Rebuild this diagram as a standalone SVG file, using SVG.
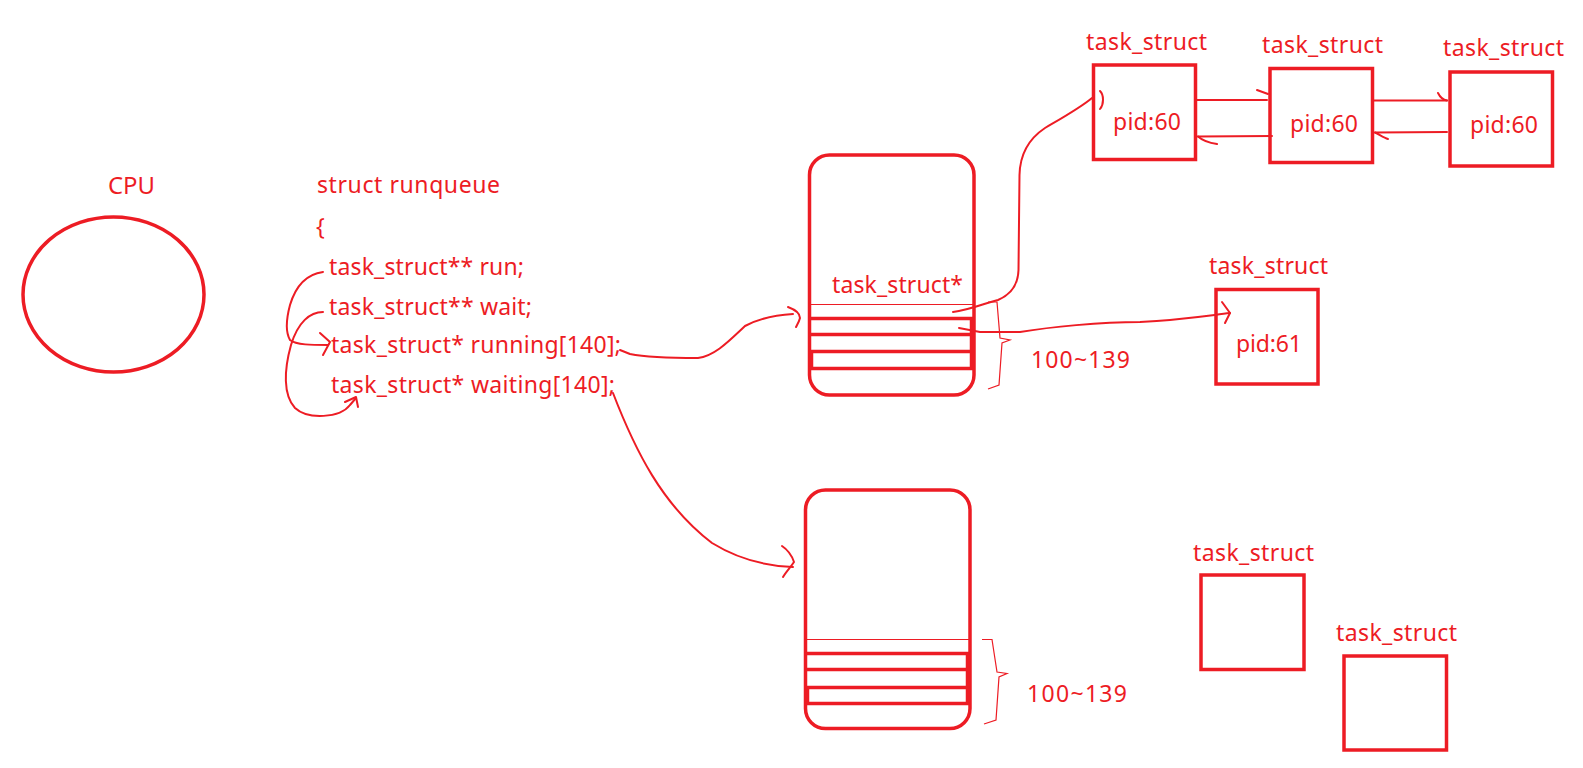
<svg xmlns="http://www.w3.org/2000/svg" width="1583" height="768" viewBox="0 0 1583 768">
<style>
text{font-family:"Noto Sans","Open Sans","Liberation Sans",sans-serif;font-size:23px;fill:#ed1c24}
.box{fill:none;stroke:#ed1c24;stroke-width:3.5}
.slot{stroke:#ed1c24;stroke-width:3.5}
.thin{fill:none;stroke:#ed1c24;stroke-width:1.2}
.ln{fill:none;stroke:#ed1c24;stroke-width:2;stroke-linecap:round;stroke-linejoin:round}
</style>
<rect width="1583" height="768" fill="#fff"/>

<g id="cpu">
<ellipse cx="113.5" cy="294.5" rx="90.5" ry="77.5" class="box" stroke-width="3"/>
<text x="108" y="194" textLength="47" lengthAdjust="spacingAndGlyphs">CPU</text>
</g>

<g id="runqueue-code">
<text x="317" y="193" textLength="183">struct runqueue</text>
<text x="316" y="235">{</text>
<text x="329" y="275" textLength="195">task_struct** run;</text>
<text x="329" y="315" textLength="203">task_struct** wait;</text>
<text x="331" y="353" textLength="290">task_struct* running[140];</text>
<text x="331" y="393" textLength="284">task_struct* waiting[140];</text>
</g>

<g id="running-array">
<rect x="809.5" y="155" width="164.5" height="240" rx="20" class="box"/>
<line x1="809.5" y1="304.5" x2="974" y2="304.5" class="thin"/>
<line x1="809.5" y1="318.5" x2="974" y2="318.5" class="slot"/>
<line x1="809.5" y1="334.5" x2="974" y2="334.5" class="slot"/>
<line x1="809.5" y1="351.5" x2="974" y2="351.5" class="slot"/>
<line x1="809.5" y1="368.5" x2="974" y2="368.5" class="slot"/>
<line x1="971.5" y1="318.5" x2="971.5" y2="368.5" class="slot" stroke-width="2"/>
<line x1="811.5" y1="351.5" x2="811.5" y2="368.5" class="slot" stroke-width="2"/>
<text x="832" y="293" textLength="131">task_struct*</text>
<path d="M988,302 L997,302 L1000,338 L1010,340 L1002,343 L999,385 L988,389" class="thin"/>
<text x="1031" y="368" textLength="99">100~139</text>
</g>

<g id="waiting-array">
<rect x="805.5" y="490" width="164.5" height="238.5" rx="20" class="box"/>
<line x1="805.5" y1="639.5" x2="970" y2="639.5" class="thin"/>
<line x1="805.5" y1="653.5" x2="970" y2="653.5" class="slot"/>
<line x1="805.5" y1="669.5" x2="970" y2="669.5" class="slot"/>
<line x1="805.5" y1="687.5" x2="970" y2="687.5" class="slot"/>
<line x1="805.5" y1="703.5" x2="970" y2="703.5" class="slot"/>
<line x1="967.5" y1="653.5" x2="967.5" y2="703.5" class="slot" stroke-width="2"/>
<line x1="807.5" y1="687.5" x2="807.5" y2="703.5" class="slot" stroke-width="2"/>
<path d="M982,639.5 L992,639.5 L997,672 L1007,673.5 L999,677 L996,720 L984,724" class="thin"/>
<text x="1027" y="702" textLength="100">100~139</text>
</g>

<g id="task-a">
<rect x="1093.5" y="65" width="102" height="94.5" class="box"/>
<text x="1086" y="50" textLength="121">task_struct</text>
<text x="1113" y="130" textLength="68">pid:60</text>
</g>
<g id="task-b">
<rect x="1270" y="68.5" width="102.5" height="94" class="box"/>
<text x="1262" y="53" textLength="121">task_struct</text>
<text x="1290" y="132" textLength="68">pid:60</text>
</g>
<g id="task-c">
<rect x="1450" y="72" width="102.5" height="94" class="box"/>
<text x="1443" y="56" textLength="121">task_struct</text>
<text x="1470" y="133" textLength="68">pid:60</text>
</g>
<g id="task-61">
<rect x="1216" y="289.5" width="102" height="94.5" class="box"/>
<text x="1209" y="274" textLength="119">task_struct</text>
<text x="1236" y="352" textLength="66">pid:61</text>
</g>
<g id="task-d">
<rect x="1201" y="575" width="103" height="94.5" class="box"/>
<text x="1193" y="561" textLength="121">task_struct</text>
</g>
<g id="task-e">
<rect x="1344" y="656" width="102.5" height="94" class="box"/>
<text x="1336" y="641" textLength="121">task_struct</text>
</g>

<g id="connectors">
<!-- run -> running -->
<path d="M323,272 C308,274 296,285 290,305 C286,320 286,333 290,340 C296,345 312,345 328,345" class="ln"/>
<path d="M320,333 L330,342 L323,355" class="ln"/>
<!-- wait -> waiting -->
<path d="M323,312 C310,312 298,322 291,345 C284,370 283,395 295,408 C308,420 340,418 350,405 L356,398" class="ln"/>
<path d="M345,402 L356,397 L358,407" class="ln"/>
<!-- running -> running array -->
<path d="M620,350 L630,354 C645,357 670,358 698,358 C715,356 730,340 745,326 C760,318 775,315 793,314" class="ln"/>
<path d="M788,307 C796,310 800,314 800,318 C799,322 797,325 796,327" class="ln"/>
<!-- waiting -> waiting array -->
<path d="M613,393 C635,450 662,505 712,543 C738,559 765,566 793,567" class="ln"/>
<path d="M782,546 C788,550 792,556 794,562 C790,568 786,572 783,577" class="ln"/>
<!-- slot -> task A -->
<path d="M953,312 C970,310 985,303 998,300 C1010,295 1018,285 1018.5,270 L1019.5,175 C1020,152 1030,138 1045,128 C1062,118 1080,108 1092,98" class="ln"/>
<path d="M1100,91 C1104,95 1104,104 1100,109" class="ln"/>
<!-- slot -> task 61 -->
<path d="M959,328 L980,332 L1020,332 C1050,327 1100,322 1140,322 C1180,320 1205,316 1230,313" class="ln"/>
<path d="M1222,302 L1230,313 L1225,323" class="ln"/>
<!-- A -> B -->
<path d="M1197,100 L1267,100" class="ln"/>
<path d="M1257,90 L1268,94" class="ln"/>
<!-- B -> A -->
<path d="M1272,136 L1198,136.5" class="ln"/>
<path d="M1198,136.5 C1203,141 1210,143 1217,144" class="ln"/>
<!-- B -> C -->
<path d="M1374,100.5 L1447,100.5" class="ln"/>
<path d="M1438,93 C1440,97 1443,100 1447,100.5" class="ln"/>
<!-- C -> B -->
<path d="M1447,132 L1375,132.5" class="ln"/>
<path d="M1375,132.5 C1380,135 1384,138 1388,139" class="ln"/>
</g>
</svg>
